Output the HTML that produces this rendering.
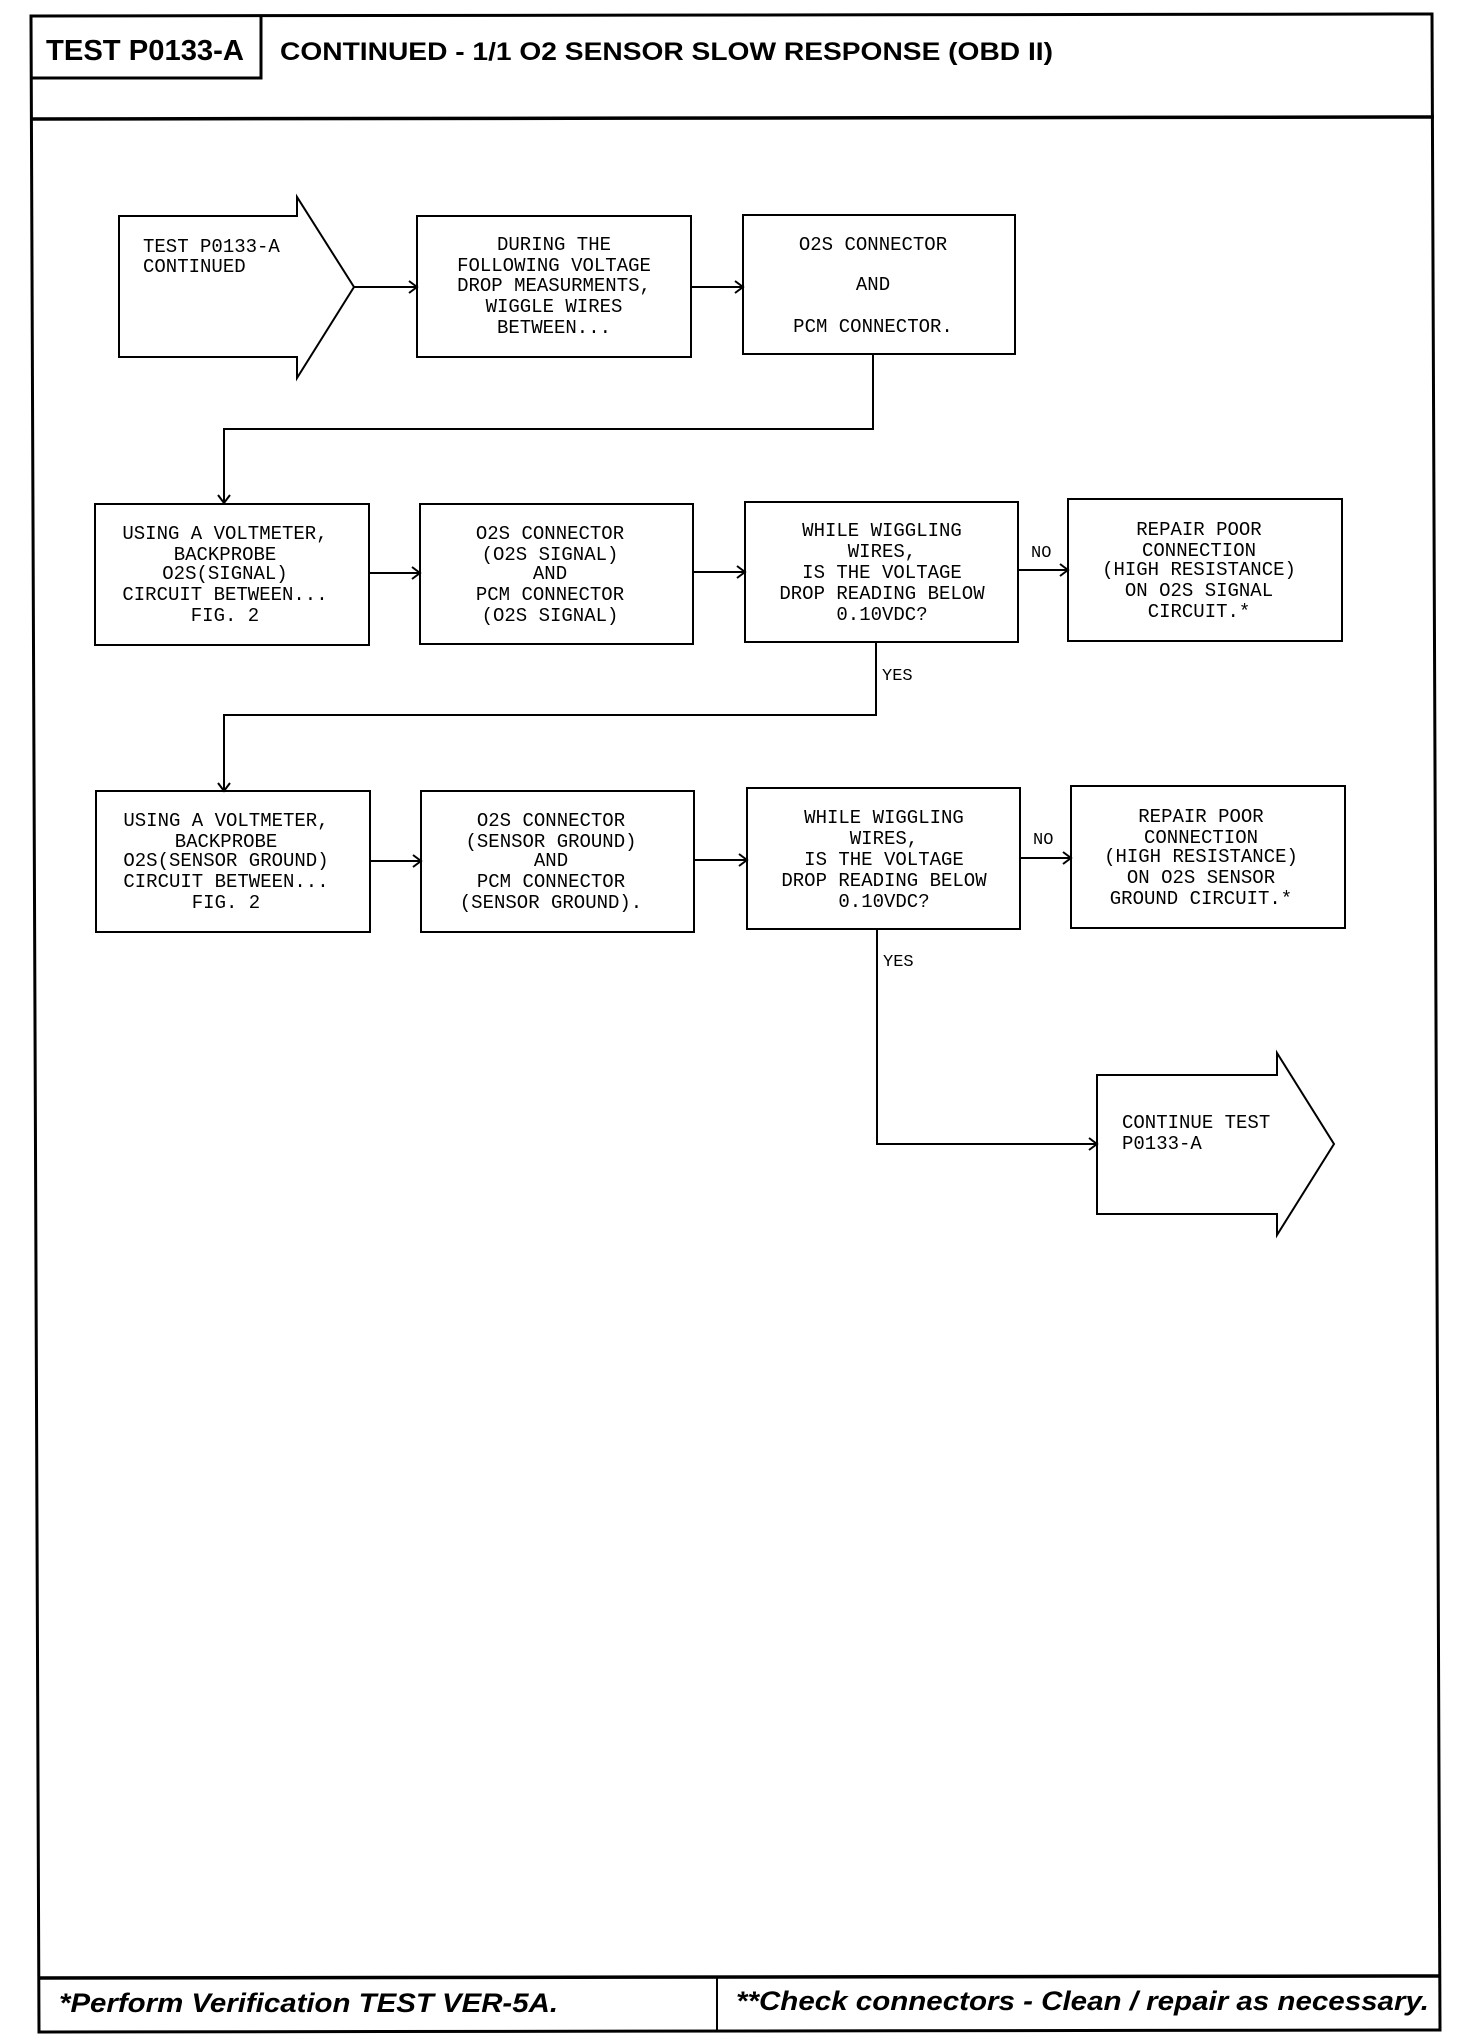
<!DOCTYPE html>
<html><head><meta charset="utf-8"><style>
html,body{margin:0;padding:0;background:#fff;}
svg{display:block;}
.m{font-family:"Liberation Mono",monospace;font-size:19px;fill:#000;}
</style></head><body>
<svg width="1472" height="2040" viewBox="0 0 1472 2040" xmlns="http://www.w3.org/2000/svg">
<g fill="none" stroke="#000" stroke-width="2.5">
<polygon points="31,16 1432,14 1440,2030 39,2032" stroke-width="3"/>
<polyline points="31,78 261,78 261,16" stroke-width="3"/>
<line x1="31" y1="119" x2="1434" y2="117" stroke-width="3.5"/>
<line x1="38" y1="1978" x2="1440" y2="1976" stroke-width="3.5"/>
<line x1="717" y1="1978" x2="717" y2="2031" stroke-width="2"/>
</g>
<g fill="none" stroke="#000" stroke-width="2">
<polygon points="119,216 297,216 297,197 354,287 297,378 297,357 119,357"/>
<rect x="417" y="216" width="274" height="141"/>
<rect x="743" y="215" width="272" height="139"/>
<rect x="95" y="504" width="274" height="141"/>
<rect x="420" y="504" width="273" height="140"/>
<rect x="745" y="502" width="273" height="140"/>
<rect x="1068" y="499" width="274" height="142"/>
<rect x="96" y="791" width="274" height="141"/>
<rect x="421" y="791" width="273" height="141"/>
<rect x="747" y="788" width="273" height="141"/>
<rect x="1071" y="786" width="274" height="142"/>
<polygon points="1097,1075 1277,1075 1277,1053 1334,1144 1277,1235 1277,1214 1097,1214"/>
<!-- connectors -->
<line x1="354" y1="287" x2="417" y2="287"/><polyline points="409,281 417,287 409,293"/>
<line x1="691" y1="287" x2="743" y2="287"/><polyline points="735,281 743,287 735,293"/>
<polyline points="873,354 873,429 224,429 224,503"/><polyline points="218,495 224,503 230,495"/>
<line x1="369" y1="573" x2="420" y2="573"/><polyline points="412,567 420,573 412,579"/>
<line x1="693" y1="572" x2="745" y2="572"/><polyline points="737,566 745,572 737,578"/>
<line x1="1018" y1="570" x2="1068" y2="570"/><polyline points="1060,564 1068,570 1060,576"/>
<polyline points="876,642 876,715 224,715 224,791"/><polyline points="218,783 224,791 230,783"/>
<line x1="370" y1="861" x2="421" y2="861"/><polyline points="413,855 421,861 413,867"/>
<line x1="694" y1="860" x2="747" y2="860"/><polyline points="739,854 747,860 739,866"/>
<line x1="1020" y1="858" x2="1071" y2="858"/><polyline points="1063,852 1071,858 1063,864"/>
<polyline points="877,929 877,1144 1097,1144"/><polyline points="1089,1138 1097,1144 1089,1150"/>
</g>
<text x="46" y="60" font-family="Liberation Sans,sans-serif" font-weight="bold" font-size="29" textLength="198" lengthAdjust="spacingAndGlyphs">TEST P0133-A</text>
<text x="280" y="60" font-family="Liberation Sans,sans-serif" font-weight="bold" font-size="25" textLength="773" lengthAdjust="spacingAndGlyphs">CONTINUED - 1/1 O2 SENSOR SLOW RESPONSE (OBD II)</text>
<text x="59" y="2012" font-family="Liberation Sans,sans-serif" font-weight="bold" font-style="italic" font-size="27" textLength="499" lengthAdjust="spacingAndGlyphs">*Perform Verification TEST VER-5A.</text>
<text x="736" y="2010" font-family="Liberation Sans,sans-serif" font-weight="bold" font-style="italic" font-size="27" textLength="693" lengthAdjust="spacingAndGlyphs">**Check connectors - Clean / repair as necessary.</text>
<g class="m">
<text x="143" y="252">TEST P0133-A</text>
<text x="143" y="272">CONTINUED</text>
<text x="1122" y="1128">CONTINUE TEST</text>
<text x="1122" y="1149">P0133-A</text>
</g>
<g class="m" text-anchor="middle">
<text x="554" y="250">DURING THE</text>
<text x="554" y="271">FOLLOWING VOLTAGE</text>
<text x="554" y="291">DROP MEASURMENTS,</text>
<text x="554" y="312">WIGGLE WIRES</text>
<text x="554" y="333">BETWEEN...</text>
<text x="873" y="250">O2S CONNECTOR</text>
<text x="873" y="290">AND</text>
<text x="873" y="332">PCM CONNECTOR.</text>

<text x="225" y="539">USING A VOLTMETER,</text>
<text x="225" y="560">BACKPROBE</text>
<text x="225" y="579">O2S(SIGNAL)</text>
<text x="225" y="600">CIRCUIT BETWEEN...</text>
<text x="225" y="621">FIG. 2</text>
<text x="550" y="539">O2S CONNECTOR</text>
<text x="550" y="560">(O2S SIGNAL)</text>
<text x="550" y="579">AND</text>
<text x="550" y="600">PCM CONNECTOR</text>
<text x="550" y="621">(O2S SIGNAL)</text>
<text x="882" y="536">WHILE WIGGLING</text>
<text x="882" y="557">WIRES,</text>
<text x="882" y="578">IS THE VOLTAGE</text>
<text x="882" y="599">DROP READING BELOW</text>
<text x="882" y="620">0.10VDC?</text>
<text x="1199" y="535">REPAIR POOR</text>
<text x="1199" y="556">CONNECTION</text>
<text x="1199" y="575">(HIGH RESISTANCE)</text>
<text x="1199" y="596">ON O2S SIGNAL</text>
<text x="1199" y="617">CIRCUIT.*</text>

<text x="226" y="826">USING A VOLTMETER,</text>
<text x="226" y="847">BACKPROBE</text>
<text x="226" y="866">O2S(SENSOR GROUND)</text>
<text x="226" y="887">CIRCUIT BETWEEN...</text>
<text x="226" y="908">FIG. 2</text>
<text x="551" y="826">O2S CONNECTOR</text>
<text x="551" y="847">(SENSOR GROUND)</text>
<text x="551" y="866">AND</text>
<text x="551" y="887">PCM CONNECTOR</text>
<text x="551" y="908">(SENSOR GROUND).</text>
<text x="884" y="823">WHILE WIGGLING</text>
<text x="884" y="844">WIRES,</text>
<text x="884" y="865">IS THE VOLTAGE</text>
<text x="884" y="886">DROP READING BELOW</text>
<text x="884" y="907">0.10VDC?</text>
<text x="1201" y="822">REPAIR POOR</text>
<text x="1201" y="843">CONNECTION</text>
<text x="1201" y="862">(HIGH RESISTANCE)</text>
<text x="1201" y="883">ON O2S SENSOR</text>
<text x="1201" y="904">GROUND CIRCUIT.*</text>
</g>
<g class="m" style="font-size:17px">
<text x="1031" y="557">NO</text>
<text x="1033" y="844">NO</text>
<text x="882" y="680">YES</text>
<text x="883" y="966">YES</text>
</g>
</svg>
</body></html>
